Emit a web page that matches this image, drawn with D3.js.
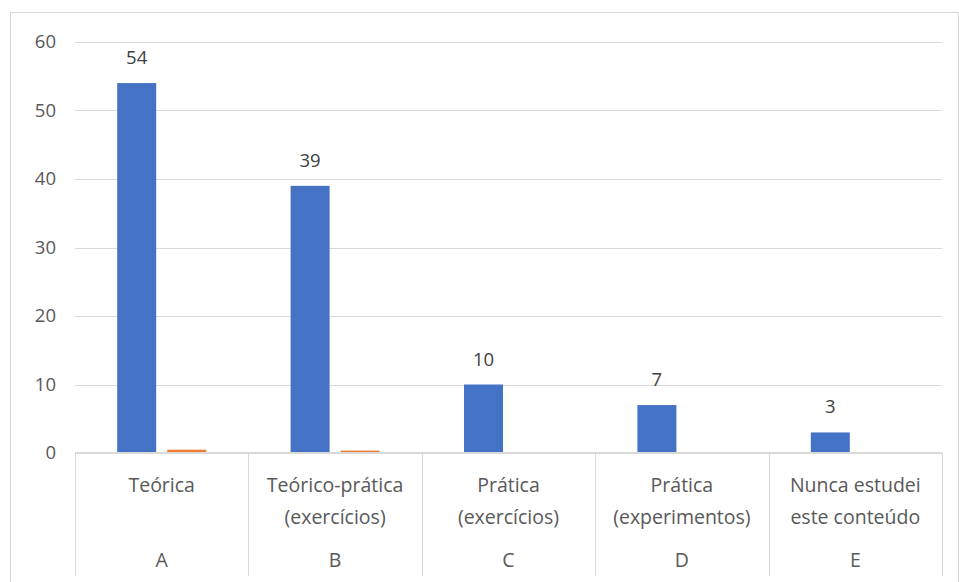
<!DOCTYPE html>
<html>
<head>
<meta charset="utf-8">
<script src="https://cdn.jsdelivr.net/npm/d3@7"></script>
<style>
  body { margin: 0; background: #fff; }
  svg text { font-family: "Open Sans", "Liberation Sans", Arial, sans-serif; }
</style>
</head>
<body>
<svg id="chart" width="959" height="582"></svg>
<script>
// data
var catLines = [["Teórica"], ["Teórico-prática", "(exercícios)"], ["Prática", "(exercícios)"], ["Prática", "(experimentos)"], ["Nunca estudei", "este conteúdo"]]
var letters = ["A", "B", "C", "D", "E"]
var counts = [54, 39, 10, 7, 3]
var shares = [0.48, 0.35, 0.09, 0.06, 0.03]
var yTicks = [0, 10, 20, 30, 40, 50, 60]

var svg = d3.select("#chart")
var plotLeft = 75, plotRight = 942, plotTop = 42, plotBottom = 453

// outer chart border
svg.append("rect")
    .attr("x", 10.5).attr("y", 12.5)
    .attr("width", 948).attr("height", 600)
    .attr("fill", "none").attr("stroke", "#d9d9d9")

var x = d3.scaleBand()
    .domain(letters)
    .range([plotLeft, plotRight])
    .paddingInner(0).paddingOuter(0)

var y = d3.scaleLinear()
    .domain([0, 60])
    .range([plotBottom, plotTop])

// gridlines
svg.append("g").selectAll("line")
    .data(yTicks.filter(function(d) { return d > 0 }))
    .enter().append("line")
    .attr("x1", plotLeft).attr("x2", plotRight)
    .attr("y1", function(d) { return Math.round(y(d)) + 0.5 })
    .attr("y2", function(d) { return Math.round(y(d)) + 0.5 })
    .attr("stroke", "#d9d9d9").attr("stroke-width", 1)

// y tick labels
svg.append("g").selectAll("text")
    .data(yTicks)
    .enter().append("text")
    .attr("x", 56).attr("y", function(d) { return y(d) })
    .attr("dy", "0.35em")
    .attr("text-anchor", "end")
    .attr("fill", "#595959")
    .style("font-size", "18.5px")
    .text(function(d) { return d })

var bw = 39, gap = 11
var groupW = bw * 2 + gap

// blue bars
svg.append("g").selectAll("rect")
    .data(counts)
    .enter().append("rect")
    .attr("x", function(d, i) { return x(letters[i]) + (x.bandwidth() - groupW) / 2 })
    .attr("y", function(d) { return y(d) })
    .attr("width", bw)
    .attr("height", function(d) { return y(0) - y(d) })
    .attr("fill", "#4472c4")

// orange bars
svg.append("g").selectAll("rect")
    .data(shares)
    .enter().append("rect")
    .attr("x", function(d, i) { return x(letters[i]) + (x.bandwidth() - groupW) / 2 + bw + gap })
    .attr("y", function(d) { return y(d) })
    .attr("width", bw)
    .attr("height", function(d) { return y(0) - y(d) })
    .attr("fill", "#ed7d31")

// data labels
svg.append("g").selectAll("text")
    .data(counts)
    .enter().append("text")
    .attr("x", function(d, i) { return x(letters[i]) + (x.bandwidth() - groupW) / 2 + bw / 2 })
    .attr("y", function(d) { return y(d) - 19 })
    .attr("text-anchor", "middle")
    .attr("fill", "#404040")
    .style("font-size", "18.5px")
    .text(function(d) { return d })

// category axis line and separators
svg.append("line")
    .attr("x1", plotLeft).attr("x2", plotRight)
    .attr("y1", plotBottom).attr("y2", plotBottom)
    .attr("stroke", "#d9d9d9").attr("stroke-width", 2)

var seps = letters.map(function(l) { return x(l) }).concat([plotRight])
svg.append("g").selectAll("line")
    .data(seps)
    .enter().append("line")
    .attr("x1", function(d) { return Math.round(d) + 0.5 })
    .attr("x2", function(d) { return Math.round(d) + 0.5 })
    .attr("y1", plotBottom).attr("y2", 576)
    .attr("stroke", "#d9d9d9")

// category labels (two lines)
var catG = svg.append("g").selectAll("text")
    .data(catLines)
    .enter().append("text")
    .attr("text-anchor", "middle")
    .attr("fill", "#595959")
    .style("font-size", "19.5px")
    .attr("x", function(d, i) { return x(letters[i]) + x.bandwidth() / 2 })
    .attr("y", 492)

catG.selectAll("tspan")
    .data(function(d, i) { return d.map(function(t) { return { t: t, cx: x(letters[i]) + x.bandwidth() / 2 } }) })
    .enter().append("tspan")
    .attr("x", function(d) { return d.cx })
    .attr("dy", function(d, j) { return j == 0 ? 0 : 32 })
    .text(function(d) { return d.t })

// letter labels
svg.append("g").selectAll("text")
    .data(letters)
    .enter().append("text")
    .attr("x", function(d) { return x(d) + x.bandwidth() / 2 })
    .attr("y", 567)
    .attr("text-anchor", "middle")
    .attr("fill", "#595959")
    .style("font-size", "19.5px")
    .text(function(d) { return d })
</script>
</body>
</html>
